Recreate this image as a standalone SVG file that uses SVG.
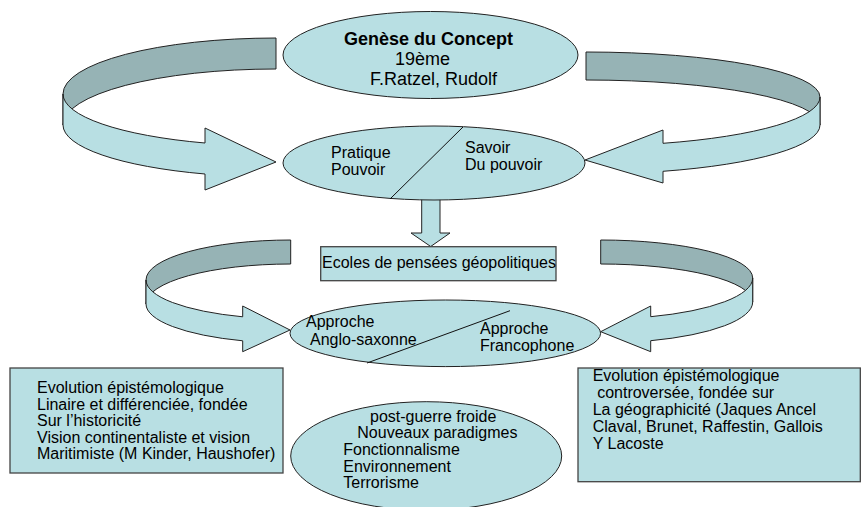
<svg xmlns="http://www.w3.org/2000/svg" width="861" height="507" viewBox="0 0 861 507">
<style>
.lt{fill:#b8dfe3;stroke:#222;stroke-width:1}
.dk{fill:#96b3b5;stroke:#222;stroke-width:1}
.bx{fill:#b8dfe3;stroke:#444;stroke-width:1.3}
.ln{stroke:#111;stroke-width:1;fill:none}
text{font-family:"Liberation Sans",Arial,sans-serif;font-size:16px;fill:#000}
.t18{font-size:18px}
.b{font-weight:bold}
</style>
<rect width="861" height="507" fill="#fff"/>
<g id="connectors">
  <g id="arrow-top-left">
    <path class="dk" d="M276,38 A213 56 0 0 0 63,94 L63,125 A213 56 0 0 1 276,69 Z"/>
    <path class="lt" d="M63,94 A213 52 0 0 0 205,143 L205,128 L276,162 L205,190 L205,174 A213 52 0 0 1 63,125 Z"/>
  </g>
  <g id="arrow-top-right">
    <path class="dk" d="M586,52 A234 45 0 0 1 820,97 L820,125 A234 45 0 0 0 586,80 Z"/>
    <path class="lt" d="M820,97 A234 49 0 0 1 663,143.3 L663,130 L585,160 L663,183 L663,171.3 A234 49 0 0 0 820,125 Z"/>
  </g>
  <g id="arrow-down">
    <path class="lt" d="M421.7,196 L440,196 L440,233 L450,233 L430.7,246.5 L411,233 L421.7,233 Z"/>
  </g>
  <g id="arrow-low-left">
    <path class="dk" d="M290.7,240 A144.7 40 0 0 0 146,280 L146,304 A144.7 40 0 0 1 290.7,264 Z"/>
    <path class="lt" d="M146,280 A144.7 39 0 0 0 242.7,316.8 L242.7,306 L290,330 L242.7,351.7 L242.7,340.8 A144.7 39 0 0 1 146,304 Z"/>
  </g>
  <g id="arrow-low-right">
    <path class="dk" d="M600.7,240 A152 38 0 0 1 752.7,278 L752.7,302 A152 38 0 0 0 600.7,264 Z"/>
    <path class="lt" d="M752.7,278 A152 41 0 0 1 650.7,316.7 L650.7,306 L600.7,331.7 L650.7,351.7 L650.7,340.7 A152 41 0 0 0 752.7,302 Z"/>
  </g>
</g>
<g id="node-genese">
  <ellipse class="lt" cx="430.5" cy="55" rx="147.5" ry="43.5"/>
  <text class="t18 b" x="344" y="45">Genèse du Concept</text>
  <text class="t18" x="395" y="65">19ème</text>
  <text class="t18" x="370" y="85">F.Ratzel, Rudolf</text>
</g>
<g id="node-pratique">
  <ellipse class="lt" cx="434" cy="163" rx="151" ry="37"/>
  <line class="ln" x1="390" y1="199" x2="463" y2="127"/>
  <text x="331" y="158">Pratique</text>
  <text x="331" y="175">Pouvoir</text>
  <text x="465" y="153">Savoir</text>
  <text x="465" y="170">Du pouvoir</text>
</g>
<g id="node-ecoles">
  <rect class="bx" x="320.7" y="246.7" width="235.3" height="34"/>
  <text x="322" y="268">Ecoles de pensées géopolitiques</text>
</g>
<g id="node-approche">
  <ellipse class="lt" cx="445.3" cy="333.3" rx="155.3" ry="33.3"/>
  <line class="ln" x1="367" y1="363" x2="510" y2="310.7"/>
  <text x="306" y="327">Approche</text>
  <text x="310" y="345">Anglo-saxonne</text>
  <text x="480" y="334">Approche</text>
  <text x="480" y="351">Francophone</text>
</g>
<g id="node-left-box">
  <rect class="bx" x="10" y="368" width="273" height="105"/>
  <text x="37" y="393">Evolution épistémologique</text>
  <text x="37" y="409.5">Linaire et différenciée, fondée</text>
  <text x="37" y="426">Sur l’historicité</text>
  <text x="37" y="442.5">Vision continentaliste et vision</text>
  <text x="37" y="459">Maritimiste (M Kinder, Haushofer)</text>
</g>
<g id="node-post-guerre">
  <ellipse class="lt" cx="426.2" cy="456" rx="135.5" ry="54.3"/>
  <text x="370" y="421.7">post-guerre froide</text>
  <text x="357.3" y="438.3">Nouveaux paradigmes</text>
  <text x="343.3" y="455">Fonctionnalisme</text>
  <text x="343.3" y="471.7">Environnement</text>
  <text x="343.3" y="488.3">Terrorisme</text>
</g>
<g id="node-right-box">
  <rect class="bx" x="578" y="368" width="282.3" height="113.7"/>
  <text x="592.7" y="381">Evolution épistémologique</text>
  <text x="592.7" y="398" xml:space="preserve"> controversée, fondée sur</text>
  <text x="592.7" y="415">La géographicité (Jaques Ancel</text>
  <text x="592.7" y="432">Claval, Brunet, Raffestin, Gallois</text>
  <text x="592.7" y="449">Y Lacoste</text>
</g>
</svg>
